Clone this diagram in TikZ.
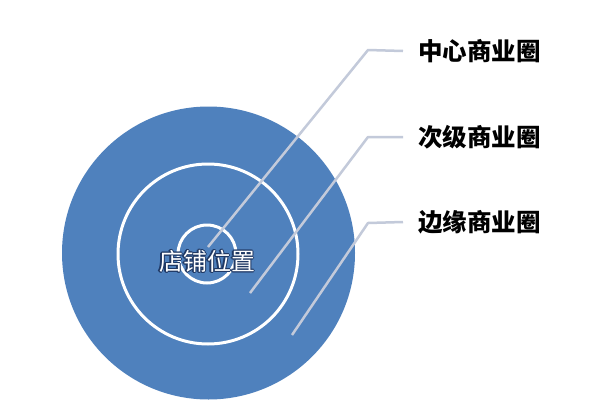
\documentclass[tikz,border=0pt]{standalone}
\usepackage{fontspec}
\newfontfamily\cjk{Noto Sans CJK SC}
\definecolor{ringblue}{HTML}{4F81BD}
\definecolor{leader}{HTML}{C3CADA}
\definecolor{navy}{HTML}{1F3864}
\begin{document}
\begin{tikzpicture}[x=1pt,y=-1pt,
  leaderline/.style={draw=leader,line width=2.5pt,line join=round},
  ringline/.style={draw=white,line width=3pt},
  zonelabel/.style={anchor=west,inner xsep=15pt,inner ysep=0pt,font=\cjk\bfseries\fontsize{24.5}{24.5}\selectfont,text=black},
  storetxt/.style={inner sep=0pt,font=\cjk\fontsize{24}{24}\selectfont}]
\useasboundingbox (0,0) rectangle (600,407);
\fill[white] (0,0) rectangle (600,407);
% rings
\node[circle,fill=ringblue,minimum size=293pt,inner sep=0pt] (outer) at (208.5,253) {};
\node[circle,ringline,minimum size=180pt,inner sep=0pt] (middle) at (208,254) {};
\node[circle,ringline,minimum size=58pt,inner sep=0pt] (inner) at (207,254) {};
% leader lines
\coordinate (p1) at (208,247);
\coordinate (e1) at (368,50);
\coordinate (p2) at (250,293);
\coordinate (e2) at (368,137);
\coordinate (p3) at (292,335);
\coordinate (e3) at (368,223);
\node[zonelabel] (l1) at (403,51) {中心商业圈};
\node[zonelabel] (l2) at (403,137) {次级商业圈};
\node[zonelabel] (l3) at (403,222) {边缘商业圈};
\draw[leaderline] (p1) -- (e1) -- (l1.west);
\draw[leaderline] (p2) -- (e2) -- (l2.west);
\draw[leaderline] (p3) -- (e3) -- (l3.west);
% store label: dark outline copies, white text on top
\foreach \dx/\dy in {-1.2/0,1.2/0,0/-1.2,0/1.2,-0.9/-0.9,0.9/0.9,-0.9/0.9,0.9/-0.9}
  \node[storetxt,text=navy] at (207+\dx,261+\dy) {店铺位置};
\node[storetxt,text=white] (store) at (207,261) {店铺位置};
\end{tikzpicture}
\end{document}
